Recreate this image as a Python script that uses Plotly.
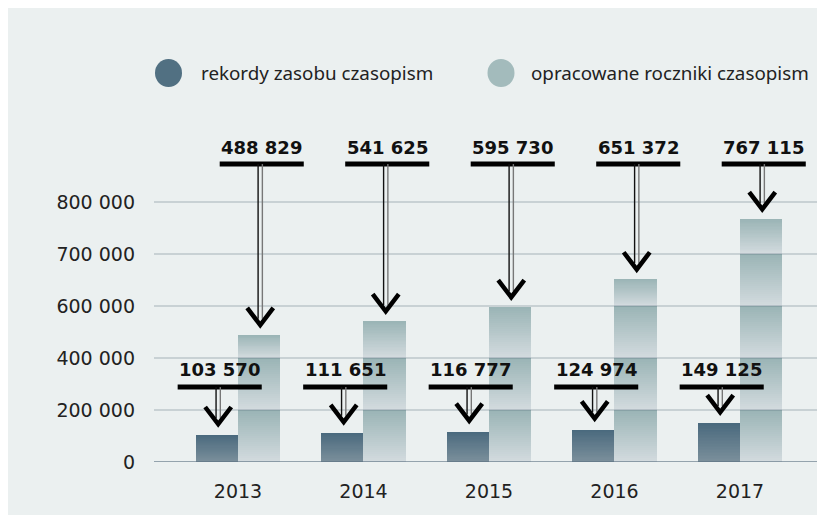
import numpy as np
import plotly.graph_objects as go

# ---------------- data ----------------
years = ["2013", "2014", "2015", "2016", "2017"]
rekordy = [103570, 111651, 116777, 124974, 149125]
roczniki = [488829, 541625, 595730, 651372, 767115]
tick_values = [0, 200000, 400000, 600000, 700000, 800000]
tick_labels = ["0", "200 000", "400 000", "600 000", "700 000", "800 000"]
series_names = ["rekordy zasobu czasopism", "opracowane roczniki czasopism"]

# ---------------- style / layout constants ----------------
W, H = 825, 507
OFF = 8                      # page body margin
L, R, T, B = 146, 0, 116, 53
PW, PH = W - L - R, H - T - B
XR = [-0.669, -0.669 + PW / 125.5]
YR = [0, PH / 52.0]
BW = 0.335
NSTEP = 26

BG = "#ebf0f0"
DARK_TOP, DARK_BOT = (74, 106, 126), (123, 143, 155)
LIGHT_TOP, LIGHT_BOT = (155, 181, 182), (210, 218, 222)


def to_axis(v):
    """piece-wise scale of the (uneven) value axis"""
    return float(np.interp(v, tick_values, np.arange(len(tick_values))))


def mix(c1, c2, f):
    return "rgb(%d,%d,%d)" % tuple(round(a + (b - a) * f) for a, b in zip(c1, c2))


def px_x(p):  # screen px -> paper
    return (p - OFF - L) / PW


def px_y(p):
    return (H - B - (p - OFF)) / PH


def fmt(v):
    return f"{v:,}".replace(",", " ")


def gradient_bar(values, top, bot, banded):
    xs, bases, hs, cols, cd = [], [], [], [], []
    for i, v in enumerate(values):
        t = to_axis(v)
        if banded:
            pieces = [(k, min(k + 1, t)) for k in range(int(np.ceil(t)))]
        else:
            pieces = [(0, t)]
        for lo, hi in pieces:
            for j in range(NSTEP):
                xs.append(i)
                bases.append(lo)
                hs.append((hi - lo) * (NSTEP - j) / NSTEP)
                cols.append(mix(top, bot, j / (NSTEP - 1)))
                cd.append(fmt(v))
    return xs, bases, hs, cols, cd


fig = go.Figure()

for vals, name, top, bot, off, banded in [
    (rekordy, series_names[0], DARK_TOP, DARK_BOT, -BW, False),
    (roczniki, series_names[1], LIGHT_TOP, LIGHT_BOT, 0.0, True),
]:
    xs, bases, hs, cols, cd = gradient_bar(vals, top, bot, banded)
    fig.add_trace(go.Bar(
        x=xs, y=hs, base=bases, offset=off, width=BW, name=name,
        marker=dict(color=cols, line=dict(width=0)),
        customdata=cd, hovertemplate="%{customdata}<extra>" + name + "</extra>",
        showlegend=False,
    ))

shapes = []
# grid lines (above bars)
for k in range(len(tick_values)):
    shapes.append(dict(type="line", xref="paper", yref="y", x0=0, x1=1, y0=k, y1=k,
                       line=dict(color="rgba(70,92,104,0.42)" if k else "rgba(90,112,128,0.6)",
                                 width=1.2 if k else 2), layer="above"))

annotations = []
# arrows + labels
for vals, centre_off, y_line, y_lab, gap in [
    (rekordy, -BW / 2, 1.44, 1.77, 0.21),
    (roczniki, BW / 2, 5.73, 6.05, 0.19),
]:
    for i, v in enumerate(vals):
        bc = i + centre_off
        lc = bc + 0.022
        ac = bc + 0.01
        tip = to_axis(v) + gap
        arm_h, arm_w = 0.33, 0.104
        shapes.append(dict(type="line", xref="x", yref="y", x0=lc - 0.335, x1=lc + 0.335,
                           y0=y_line, y1=y_line, line=dict(color="#000", width=5)))
        for dx, col in [(-0.017, "#111"), (0.017, "#777")]:
            shapes.append(dict(type="line", xref="x", yref="y", x0=ac + dx, x1=ac + dx,
                               y0=y_line, y1=tip + 0.12, line=dict(color=col, width=1.4)))
        shapes.append(dict(type="path", xref="x", yref="y",
                           path=f"M {ac - arm_w},{tip + arm_h} L {ac},{tip} L {ac + arm_w},{tip + arm_h}",
                           line=dict(color="#000", width=4.5)))
        annotations.append(dict(x=lc, y=y_lab, xref="x", yref="y", text=f"<b>{fmt(v)}</b>",
                                showarrow=False, xanchor="center", yanchor="middle",
                                font=dict(family="DejaVu Sans", size=18, color="#111")))

# legend (circles + text)
for cx, tx, top, bot, name in [(168.5, 199, DARK_TOP, DARK_BOT, series_names[0]),
                               (501, 529, LIGHT_TOP, LIGHT_BOT, series_names[1])]:
    shapes.append(dict(type="circle", xref="paper", yref="paper",
                       x0=px_x(cx - 13.5), x1=px_x(cx + 13.5), y0=px_y(73 + 14), y1=px_y(73 - 14),
                       fillcolor=mix(top, bot, 0.15), line=dict(width=0)))
    annotations.append(dict(x=px_x(tx), y=px_y(73), xref="paper", yref="paper", text=name,
                            showarrow=False, xanchor="left", yanchor="middle",
                            font=dict(family="Noto Sans", size=18.8, color="#222")))

fig.update_layout(
    width=W, height=H,
    margin=dict(l=L, r=R, t=T, b=B, pad=0),
    paper_bgcolor=BG, plot_bgcolor="rgba(0,0,0,0)",
    barmode="overlay", bargap=0,
    shapes=shapes, annotations=annotations,
    showlegend=False,
    xaxis=dict(range=XR, tickvals=list(range(len(years))), ticktext=years,
               showgrid=False, zeroline=False, showline=False, ticks="",
               ticklabelstandoff=16,
               tickfont=dict(family="DejaVu Sans", size=19, color="#222"), fixedrange=True),
    yaxis=dict(range=YR, tickvals=list(range(len(tick_values))), ticktext=tick_labels,
               showgrid=False, zeroline=False, showline=False, ticks="",
               ticklabelstandoff=18,
               tickfont=dict(family="DejaVu Sans", size=19, color="#222"), fixedrange=True),
)

fig.write_html("out.html")
